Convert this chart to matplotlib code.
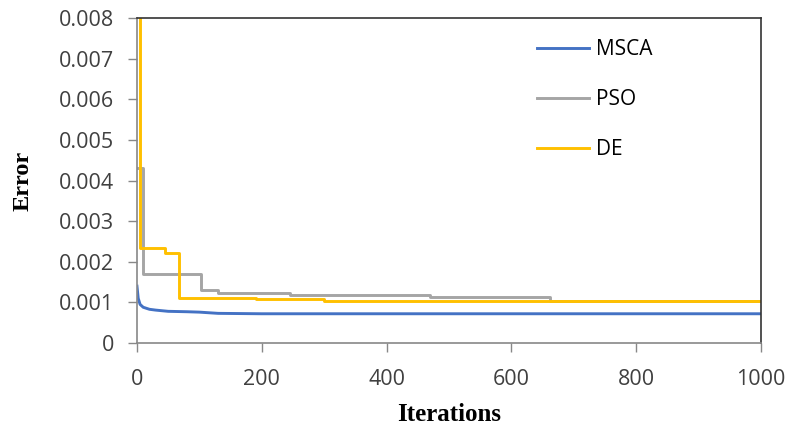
import matplotlib
matplotlib.use("Agg")
import matplotlib.pyplot as plt
from matplotlib.ticker import FuncFormatter

# data
msca_iter = [0, 2, 5, 10, 20, 30, 50, 80, 100, 130, 200, 1000]
msca_err = [0.0014, 0.00110, 0.00095, 0.00088, 0.00083, 0.00081, 0.00078, 0.00077, 0.00076, 0.00073, 0.00072, 0.00072]

pso_iter = [0, 9, 103, 130, 245, 470, 662, 1000]
pso_err = [0.0043, 0.0017, 0.00131, 0.00124, 0.00118, 0.00113, 0.00103, 0.00103]

de_iter = [0, 5, 45, 67, 190, 300, 1000]
de_err = [0.0095, 0.00235, 0.00222, 0.00111, 0.00109, 0.00103, 0.00103]

fig = plt.figure(figsize=(7.89, 4.30), dpi=100)
ax = fig.add_axes([0.1736, 0.2023, 0.7909, 0.7558])

ax.plot(msca_iter, msca_err, color="#4472C4", lw=2.1, label="MSCA")
ax.plot(pso_iter, pso_err, color="#A5A5A5", lw=2.1, drawstyle="steps-post", label="PSO")
ax.plot(de_iter, de_err, color="#FFC000", lw=2.1, drawstyle="steps-post", label="DE")

ax.set_xlim(0, 1000)
ax.set_ylim(0, 0.008)
ax.set_xticks([0, 200, 400, 600, 800, 1000])
ax.set_yticks([i * 0.001 for i in range(9)])
ax.yaxis.set_major_formatter(FuncFormatter(lambda v, p: "0" if v == 0 else f"{v:.3f}"))

for lab in ax.get_xticklabels() + ax.get_yticklabels():
    lab.set_fontfamily("Open Sans")
    lab.set_fontsize(15.5)
    lab.set_color("#404040")

ax.tick_params(axis="both", direction="out", length=6.5, color="#888888", width=1)
ax.tick_params(axis="x", pad=12)
ax.tick_params(axis="y", pad=10)
for s in ("left", "bottom"):
    ax.spines[s].set_color("#888888")
    ax.spines[s].set_linewidth(1.2)
for s in ("top", "right"):
    ax.spines[s].set_color("#333333")
    ax.spines[s].set_linewidth(1.2)

ax.set_xlabel("Iterations", fontfamily="Liberation Serif", fontweight="bold", fontsize=18, va="center")
ax.set_ylabel("Error", fontfamily="Liberation Serif", fontweight="bold", fontsize=17.5, va="center")
ax.xaxis.set_label_coords(0.5, -0.22)
ax.yaxis.set_label_coords(-0.183, 0.5)

leg = ax.legend(loc="upper left", bbox_to_anchor=(0.628, 0.96), frameon=False,
                prop={"family": "Open Sans", "size": 15}, handlelength=2.5,
                labelspacing=1.38, handletextpad=0.3, borderaxespad=0)

fig.savefig("out.png", dpi=100)
